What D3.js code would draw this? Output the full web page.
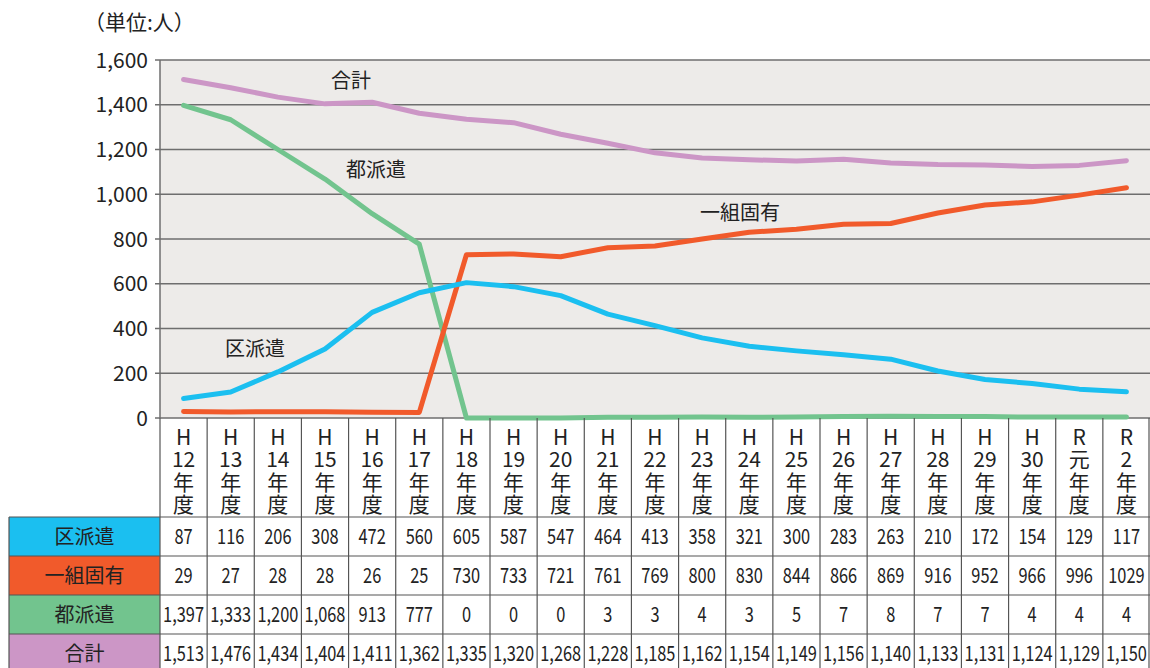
<!DOCTYPE html>
<html><head><meta charset="utf-8">
<script src="https://cdn.jsdelivr.net/npm/d3@7"></script>
<style>
html,body{margin:0;padding:0;background:#fff;}
#wrap{position:relative;width:1150px;height:668px;}
svg{display:block;font-family:"Noto Sans CJK JP","Noto Sans",sans-serif;}
.hdr{position:absolute;white-space:pre;text-align:center;font-family:"Noto Sans CJK JP","Noto Sans",sans-serif;font-size:21px;line-height:22.5px;color:#222;}
</style></head>
<body><div id="wrap"><svg id="c" width="1150" height="668"></svg></div>
<script>
const categories = ["H12","H13","H14","H15","H16","H17","H18","H19","H20","H21","H22","H23","H24","H25","H26","H27","H28","H29","H30","R元","R2"];
const headerLines = [["H","12"],["H","13"],["H","14"],["H","15"],["H","16"],["H","17"],["H","18"],["H","19"],["H","20"],["H","21"],["H","22"],["H","23"],["H","24"],["H","25"],["H","26"],["H","27"],["H","28"],["H","29"],["H","30"],["R","元"],["R","2"]];
const kuHaken  = [87,116,206,308,472,560,605,587,547,464,413,358,321,300,283,263,210,172,154,129,117];
const koyu     = [29,27,28,28,26,25,730,733,721,761,769,800,830,844,866,869,916,952,966,996,1029];
const toHaken  = [1397,1333,1200,1068,913,777,0,0,0,3,3,4,3,5,7,8,7,7,4,4,4];
const total    = [1513,1476,1434,1404,1411,1362,1335,1320,1268,1228,1185,1162,1154,1149,1156,1140,1133,1131,1124,1129,1150];
const yTicks   = [0,200,400,600,800,1000,1200,1400,1600];

const series = [
  {name:"区派遣", values:kuHaken, color:"#1bbff0", fmt:d3.format("d"), label:[255,349]},
  {name:"一組固有", values:koyu, color:"#f15a2b", fmt:d3.format("d"), label:[740,213]},
  {name:"都派遣", values:toHaken, color:"#72c48e", fmt:d3.format(","), label:[376,170]},
  {name:"合計", values:total, color:"#cc96c6", fmt:d3.format(","), label:[351,81]}
];

const svg = d3.select("#c");
const L = 160, R = 1150, T = 60, B = 418;
const x = d3.scaleBand().domain(categories).range([L, R]).padding(0);
const y = d3.scaleLinear().domain([0,1600]).range([B, T]);

svg.append("rect").attr("x",L).attr("y",T).attr("width",R-L).attr("height",B-T).attr("fill","#edebe9");

svg.append("g").selectAll("line").data(yTicks).join("line")
  .attr("x1",L-5).attr("x2",R).attr("y1",d=>y(d)).attr("y2",d=>y(d))
  .attr("stroke","#6e6e6e").attr("stroke-width",1.5);
svg.append("line").attr("x1",L).attr("x2",L).attr("y1",T).attr("y2",B).attr("stroke","#6e6e6e").attr("stroke-width",1.5);

svg.append("g").selectAll("text").data(yTicks).join("text")
  .attr("x",148).attr("y",d=>y(d)).attr("dy","0.36em").attr("text-anchor","end")
  .attr("font-size",21).attr("fill","#222").text(d=>d3.format(",")(d));

svg.append("text").attr("x",84).attr("y",30).attr("font-size",21).attr("fill","#222").text("（単位:人）");

const line = d3.line().x((d,i)=>x(categories[i])+x.bandwidth()/2).y(d=>y(d));
[3,2,1,0].forEach(k=>{
  const s = series[k];
  svg.append("path").attr("d",line(s.values)).attr("fill","none")
    .attr("stroke",s.color).attr("stroke-width",5).attr("stroke-linejoin","round").attr("stroke-linecap","round");
});
series.forEach(s=>{
  svg.append("text").attr("x",s.label[0]).attr("y",s.label[1]).attr("dy","0.36em")
    .attr("text-anchor","middle").attr("font-size",20).attr("fill","#222").text(s.name);
});

const rowTop = [517,556,595,634];
const rowH = 39;
const lc = "#555";
// header labels as single pre-formatted text blocks
d3.select("#wrap").selectAll("div.hdr").data(categories).join("div")
  .attr("class","hdr")
  .style("left",d=>x(d)+"px")
  .style("width",x.bandwidth()+"px")
  .style("top",(436-11.25)+"px")
  .text((d,i)=>headerLines[i].concat(["年","度"]).join("\n"));

series.forEach((s,r)=>{
  svg.append("rect").attr("x",9).attr("y",rowTop[r]).attr("width",L-9).attr("height",rowH).attr("fill",s.color);
  svg.append("text").attr("x",(9+L)/2).attr("y",rowTop[r]+rowH/2).attr("dy","0.36em")
    .attr("text-anchor","middle").attr("font-size",20).attr("fill","#222").text(s.name);
  s.values.forEach((v,i)=>{
    const cx = x(categories[i])+x.bandwidth()/2;
    const g = svg.append("g").attr("transform",`translate(${cx},${rowTop[r]+rowH/2}) scale(0.78,1)`);
    g.append("text").attr("x",0).attr("y",0).attr("dy","0.36em").attr("text-anchor","middle")
      .attr("font-size",21).attr("fill","#222").text(s.fmt(v));
  });
});
const tg = svg.append("g").attr("stroke",lc).attr("stroke-width",1.2);
rowTop.forEach(yy=>tg.append("line").attr("x1",9).attr("x2",R).attr("y1",yy).attr("y2",yy));
tg.append("line").attr("x1",9).attr("x2",9).attr("y1",517).attr("y2",668);
categories.forEach(c=>tg.append("line").attr("x1",x(c)).attr("x2",x(c)).attr("y1",B).attr("y2",668));
tg.append("line").attr("x1",R-1).attr("x2",R-1).attr("y1",B).attr("y2",668);
</script></body></html>
